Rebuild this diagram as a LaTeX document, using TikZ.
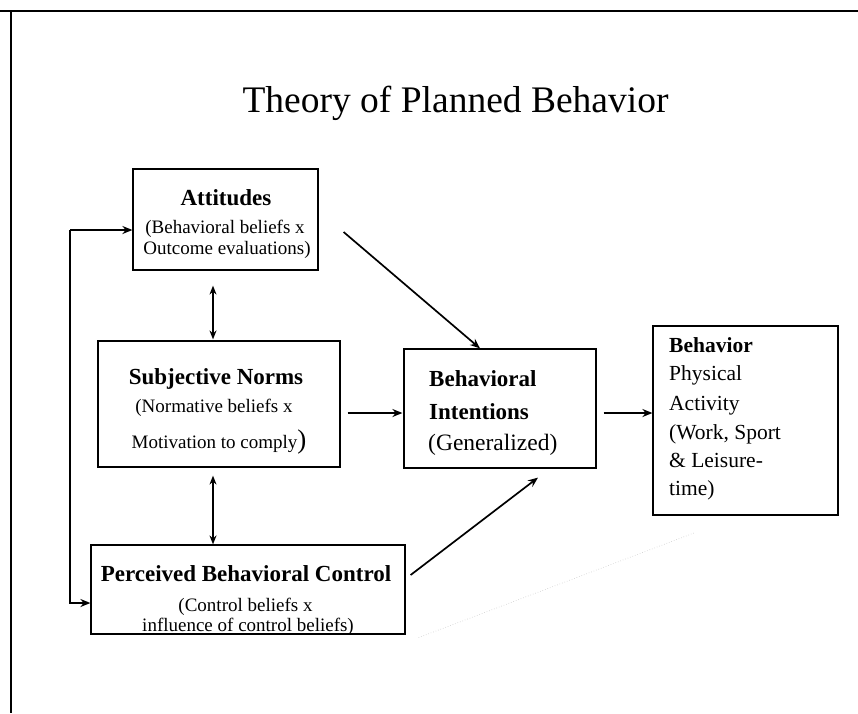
\documentclass[tikz,border=0pt]{standalone}
\usepackage{fontspec}
\setmainfont{Liberation Serif}
\usetikzlibrary{arrows.meta,calc}
\begin{document}
\begin{tikzpicture}[x=1pt,y=-1pt,
  box/.style={draw,line width=1.2pt,inner sep=0pt},
  hd/.style={anchor=base,inner sep=0pt,font=\fontsize{23}{27}\selectfont\bfseries},
  sub/.style={anchor=base,inner sep=0pt,font=\fontsize{19}{22}\selectfont},
  bl/.style={anchor=base west,inner sep=0pt},
  arr/.style={line width=1.7pt,-{Stealth[length=10pt,width=8pt]}},
  dbl/.style={line width=1.4pt,{Stealth[length=9pt,width=7pt]}-{Stealth[length=9pt,width=7pt]}}]
\useasboundingbox (0,0) rectangle (858,713);

% page frame: rule along the top and the left edge
\draw[line width=2.6pt] (0,11) -- (858,11);
\draw[line width=1.6pt] (11,11) -- (11,713);

% title
\node[anchor=base,inner sep=0pt,font=\fontsize{37.5}{40}\selectfont] (title) at (455.5,112) {Theory of Planned Behavior};

% boxes
\node[box,minimum width=185pt,minimum height=101pt] (att) at (225.5,219.5) {};
\node[box,minimum width=242pt,minimum height=126pt] (sn)  at (219,404) {};
\node[box,minimum width=314pt,minimum height=89pt]  (pbc) at (248,589.5) {};
\node[box,minimum width=192pt,minimum height=119pt] (bi)  at (500,408.5) {};
\node[box,minimum width=185pt,minimum height=189pt] (beh) at (745.5,420.5) {};

% Attitudes
\node[hd]  (att1) at (226,205) {Attitudes};
\node[sub] (att2) at (225,233.5) {(Behavioral beliefs x};
\node[sub] (att3) at (227,254) {Outcome evaluations)};

% Subjective Norms
\node[hd]  (sn1) at (216,384) {Subjective Norms};
\node[sub] (sn2) at (214,412.5) {(Normative beliefs x};
\node[sub] (sn3) at (219,448) {Motivation to comply{\fontsize{27}{27}\selectfont)}};

% Perceived Behavioral Control
\node[hd]  (pbc1) at (246,581.5) {Perceived Behavioral Control};
\node[sub] (pbc2) at (245.5,611) {(Control beliefs x};
\node[sub] (pbc3) at (248,631.5) {influence of control beliefs)};

% Behavioral Intentions
\node[bl,font=\fontsize{23}{27}\selectfont\bfseries] (bi1) at (429,386.5) {Behavioral};
\node[bl,font=\fontsize{23}{27}\selectfont\bfseries] (bi2) at (429,419.3) {Intentions};
\node[bl,font=\fontsize{23.5}{27}\selectfont] (bi3) at (428,450) {(Generalized)};

% Behavior
\node[bl,font=\fontsize{21.5}{25}\selectfont\bfseries] (beh1) at (669,352.7) {Behavior};
\node[bl,font=\fontsize{21.5}{25}\selectfont] (beh2) at (669,380.7) {Physical};
\node[bl,font=\fontsize{21.5}{25}\selectfont] (beh3) at (669,410) {Activity};
\node[bl,font=\fontsize{21.5}{25}\selectfont] (beh4) at (669,439.3) {(Work, Sport};
\node[bl,font=\fontsize{21.5}{25}\selectfont] (beh5) at (669,467.3) {\& Leisure-};
\node[bl,font=\fontsize{21.5}{25}\selectfont] (beh6) at (669,495) {time)};

% helper positions for the connectors
\coordinate (vx) at (213,0);
\coordinate (lx) at (70,0);
\coordinate (hy) at (0,413);
\coordinate (ty) at (0,230);
\coordinate (by) at (0,603);

% links between the three belief boxes
\draw[dbl,shorten <=15pt,shorten >=1pt] (att.south -| vx) -- (sn.north -| vx);
\draw[dbl,shorten <=8pt,shorten >=0pt] (sn.south -| vx) -- (pbc.north -| vx);

% loop on the left joining attitudes and control
\draw[arr] (lx |- ty) -- (att.west |- ty);
\draw[arr] (lx |- ty) -- (lx |- by) -- (pbc.west |- by);

% paths into intentions and behaviour
\draw[arr,shorten <=7pt,shorten >=1pt] (sn.east |- hy) -- (bi.west |- hy);
\draw[arr,shorten <=7pt,shorten >=0pt] (bi.east |- hy) -- (beh.west |- hy);
\draw[arr] ($(att.east)+(25,12.5)$) -- ($(bi.north)+(-20,0)$);
\draw[arr] ($(pbc.east)+(5,-14.5)$) -- ($(bi.south)+(38,9)$);

% faint trace running from the control box towards the behaviour box
\draw[gray!45,line width=0.6pt,dotted] ($(pbc.south east)+(13,3)$) -- ($(beh.south)+(-50.5,17)$);
\end{tikzpicture}
\end{document}
